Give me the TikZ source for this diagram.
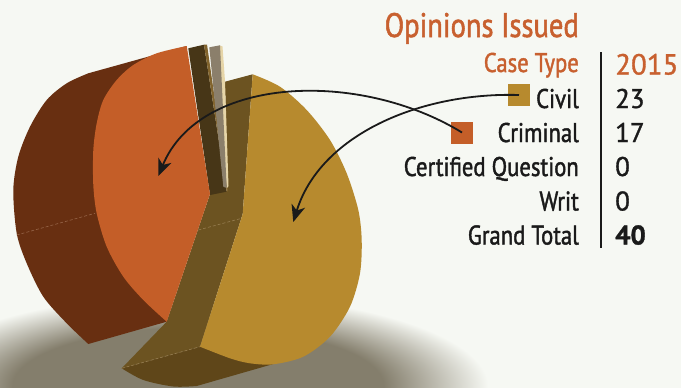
\documentclass[tikz,border=0pt]{standalone}
\usepackage{fontspec}
\setmainfont[FakeStretch=0.84,FakeBold=1.5]{PT Sans}
\newfontfamily\numfont[FakeBold=1.2]{PT Sans}
\usetikzlibrary{arrows.meta}

\definecolor{bg}{RGB}{246,248,243}
\definecolor{ink}{RGB}{26,26,26}
\definecolor{headorange}{RGB}{200,96,47}
\definecolor{crimface}{RGB}{196,94,40}
\definecolor{crimside}{RGB}{104,47,17}
\definecolor{crimseam}{RGB}{150,100,72}
\definecolor{civface}{RGB}{183,138,46}
\definecolor{civside}{RGB}{108,83,33}
\definecolor{civbottom}{RGB}{95,70,25}
\definecolor{civseam}{RGB}{150,125,80}
\definecolor{slivdark}{RGB}{71,54,23}
\definecolor{slivedge}{RGB}{130,100,45}
\definecolor{slivgray}{RGB}{139,127,107}
\definecolor{slivcream}{RGB}{230,213,168}
\definecolor{shadowc}{RGB}{132,126,108}
\pgfdeclareradialshading{pieshadow}{\pgfpoint{0bp}{0bp}}{color(0bp)=(shadowc); color(16bp)=(shadowc); color(25bp)=(bg); color(50bp)=(bg)}

\begin{document}
\begin{tikzpicture}[x=1pt,y=-1pt]
    \tikzstyle{lbl} = [anchor=base east, inner sep=0pt, text=ink, font=\fontsize{27}{30}\selectfont]
    \tikzstyle{num} = [anchor=base west, inner sep=0pt, text=ink, font=\numfont\fontsize{27}{30}\selectfont]
    \tikzstyle{legsq} = [minimum size=22pt, inner sep=0pt]
    \tikzstyle{pointer} = [ink, line width=1.8pt, -{Stealth[length=17pt,width=14pt,inset=5pt]}]
    \tikzstyle{seam} = [line width=0.6pt, densely dashed]

    \useasboundingbox (0,0) rectangle (681,388);
    \fill[bg] (0,0) rectangle (681,388);

    % shadow under the pie
    \shade[shading=pieshadow] (198,386) ellipse [x radius=290, y radius=92];

    % criminal slice, side
    \fill[crimside] (88.3,73.3) -- (186.7,46) -- (166.7,321.7) -- (88.3,344)
      -- plot[smooth] coordinates {(88.3,344) (66.7,323.3) (43.3,296.7) (26.7,263.3)
         (16.7,233.3) (13.3,190) (18.3,156.7) (30,126.7) (46.7,100) (66.7,83.3) (88.3,73.3)}
      -- cycle;
    \draw[seam, crimseam] (16.7,235) -- (95,213.3);

    % civil slice, bottom and cut faces
    \fill[civbottom] (121.7,368.3) -- (200,346.7) -- (273.3,364) -- (196.7,386)
      -- plot[smooth] coordinates {(196.7,386) (173.3,386.5) (143.3,380) (121.7,368.3)}
      -- cycle;
    \fill[civside] (225,81.7) -- (252.7,74.3) -- (242.7,214) -- (200,346.7)
      -- (121.7,368.3) -- (166.7,321.7) -- (210,194) -- (227,191) -- cycle;
    \draw[seam, civseam] (198.3,230) -- (241.7,218.3);
    \draw[seam, civseam] (121.7,368.3) -- (200,346.7);

    % empty slices
    \fill[slivdark] (188.3,48.3) -- (204,44.7) -- (226.7,191.7) -- (210,195) -- cycle;
    \fill[slivedge] (204,44.7) -- (207,44.5) -- (228,191) -- (226.7,191.7) -- cycle;
    \fill[slivcream] (219,45.3) -- (222.5,46.5) -- (225,81) -- (228.5,186) -- (226.7,188.5) -- cycle;
    \fill[slivgray] (209.3,47.3) -- (220,45.3) -- (226.7,188) -- (223.3,186.7) -- cycle;

    % criminal slice, face
    \fill[crimface] (186.7,46) -- (210,194) -- (166.7,321.7)
      -- plot[smooth] coordinates {(166.7,321.7) (143.3,300) (123.3,276.7) (106.7,246.7)
         (96.7,213.3) (93.3,185) (93.3,150) (96.7,123.3) (103.3,100) (116.7,80)
         (133.3,65) (156.7,53.3) (186.7,46)}
      -- cycle;

    % civil slice, face
    \fill[civface] (242.7,214)
      -- plot[smooth] coordinates {(252.7,74.3) (280,86.7) (306.7,110) (330,140)
         (346.7,173.3) (358.3,210) (361.7,240) (360,273.3) (350,306.7) (330,336.7)
         (303.3,356.7) (273.3,364.3) (250,363.3) (230,358.3) (200,346.7)}
      -- cycle;

    % table
    \node[anchor=base east, inner sep=0pt, text=headorange, font=\fontsize{34}{40}\selectfont] (title) at (579,37) {Opinions Issued};
    \node[anchor=base east, inner sep=0pt, text=headorange, font=\fontsize{27}{30}\selectfont] (casetype) at (579,72) {Case Type};
    \node[anchor=base west, inner sep=0pt, text=headorange, font=\numfont\fontsize{29}{34}\selectfont] (yearhead) at (615,74.5) {2015};

    \node[lbl] (lblcivil) at (579,108) {Civil};
    \node[lbl] (lblcrim) at (579,142) {Criminal};
    \node[lbl] (lblcert) at (579,176) {Certified Question};
    \node[lbl] (lblwrit) at (579,210.5) {Writ};
    \node[lbl] (lbltotal) at (579,244.5) {Grand Total};

    \node[num] (numcivil) at (615,108) {23};
    \node[num] (numcrim) at (615,142) {17};
    \node[num] (numcert) at (615,176) {0};
    \node[num] (numwrit) at (615,210.5) {0};
    \node[num, font=\numfont\fontsize{27}{30}\selectfont\bfseries] (numtotal) at (615,244.5) {40};

    \coordinate (bartop) at (601,52);
    \coordinate (barbot) at (601,248);
    \draw[ink, line width=2pt] (bartop) -- (barbot);

    \node[legsq, fill=civface] (civsq) at (519,95) {};
    \node[legsq, fill=crimface] (crimsq) at (462,132.5) {};

    % pointers into the pie
    \coordinate (crimtip) at (158.3,176);
    \coordinate (civtip) at (293.3,222);
    \draw[pointer] (crimsq.center) .. controls (360,70) and (200,75) .. (crimtip);
    \draw[pointer] (civsq.center) .. controls (420,92) and (320,135) .. (civtip);
\end{tikzpicture}
\end{document}
